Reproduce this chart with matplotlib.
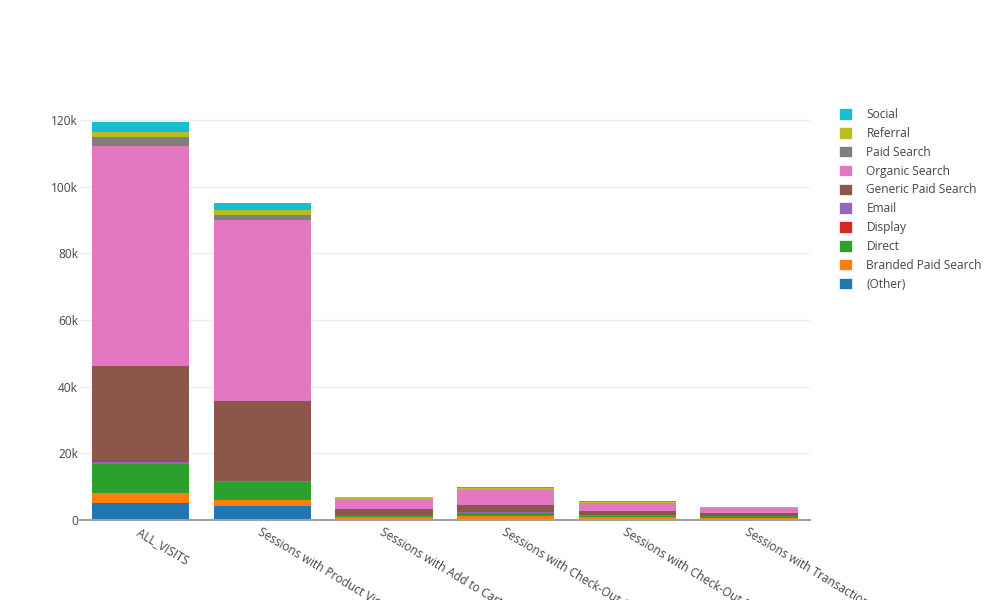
import matplotlib.pyplot as plt
from matplotlib.patches import Patch
from matplotlib.ticker import FuncFormatter

plt.rcParams['font.family'] = ['Open Sans', 'DejaVu Sans']

stages = ["ALL_VISITS", "Sessions with Product Views", "Sessions with Add to Cart",
          "Sessions with Check-Out 1", "Sessions with Check-Out 2", "Sessions with Transactions"]

# stacked bottom -> top
other = [5200, 4300, 300, 400, 400, 300]
branded_paid = [3000, 1800, 500, 900, 400, 400]
direct = [8700, 5400, 600, 900, 300, 500]
display = [50, 30, 10, 20, 10, 10]
email = [400, 150, 50, 100, 300, 50]
generic_paid = [29000, 24000, 1800, 2100, 1200, 900]
organic = [66000, 54300, 3000, 4450, 2400, 1400]
paid_search = [2700, 1500, 100, 100, 100, 50]
referral = [1500, 1600, 400, 600, 300, 300]
social = [3000, 2000, 200, 200, 300, 50]

series = [
    ("(Other)", other, "#1f77b4"),
    ("Branded Paid Search", branded_paid, "#ff7f0e"),
    ("Direct", direct, "#2ca02c"),
    ("Display", display, "#d62728"),
    ("Email", email, "#9467bd"),
    ("Generic Paid Search", generic_paid, "#8c564b"),
    ("Organic Search", organic, "#e377c2"),
    ("Paid Search", paid_search, "#7f7f7f"),
    ("Referral", referral, "#bcbd22"),
    ("Social", social, "#17becf"),
]

fig = plt.figure(figsize=(10, 6), dpi=100)
ax = fig.add_axes([0.08, 1 - 520 / 600, 0.73, 420 / 600])

x = list(range(len(stages)))
bottom = [0] * len(stages)
handles = []
for name, vals, col in series:
    ax.bar(x, vals, width=0.8, bottom=bottom, color=col, linewidth=0)
    bottom = [b + v for b, v in zip(bottom, vals)]
    handles.append(Patch(facecolor=col, edgecolor="white", linewidth=0.5, label=name))

ax.set_xlim(-0.5, len(stages) - 0.5)
ax.set_ylim(0, 126000)
ax.set_yticks(range(0, 120001, 20000))
ax.yaxis.set_major_formatter(FuncFormatter(lambda v, p: "0" if v == 0 else f"{int(v / 1000)}k"))
ax.grid(axis="y", color="#eeeeee", linewidth=1)
ax.set_axisbelow(True)
for s in ["top", "right", "left"]:
    ax.spines[s].set_visible(False)
ax.spines["bottom"].set_color("#a0a0a0")
ax.spines["bottom"].set_linewidth(1.5)
ax.spines["bottom"].set_zorder(5)
ax.tick_params(axis="both", length=0, colors="#444444", labelsize=8.6)
ax.tick_params(axis="y", pad=1.5)
ax.set_xticks(x)
ax.set_xticklabels(stages, rotation=-31, ha="left", rotation_mode="anchor")
ax.tick_params(axis="x", pad=4)

ax.legend(handles=handles[::-1], loc="upper left", bbox_to_anchor=(0.839, 1 - 108 / 600),
          bbox_transform=fig.transFigure, frameon=False, fontsize=8.6, labelcolor="#444444",
          handlelength=1.1, handleheight=1.1, handletextpad=1.2, labelspacing=0.49,
          borderpad=0, borderaxespad=0)

fig.savefig("out.png", dpi=100)
